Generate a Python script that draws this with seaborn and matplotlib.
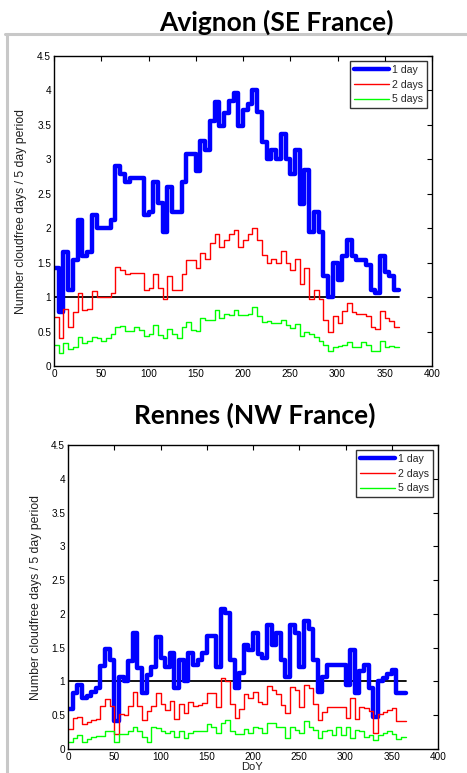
import numpy as np
import pandas as pd
import matplotlib
matplotlib.use("Agg")
import matplotlib.pyplot as plt
from matplotlib.lines import Line2D
from matplotlib.ticker import FormatStrFormatter
import seaborn as sns

# Start day of each 5-day period (73 periods)
period_start = list(range(0, 365, 5))
year_end = 365

series_names = ["1 day", "2 days", "5 days"]

# Avignon (SE France)
avignon_1day = [1.42, 0.78, 1.66, 1.11, 1.54, 2.12, 1.59, 1.66, 2.19, 2.00,
                2.00, 2.00, 2.12, 2.91, 2.78, 2.67, 2.73, 2.73, 2.73, 2.19,
                2.24, 2.67, 2.36, 1.95, 2.60, 2.24, 2.24, 2.67, 3.08, 3.08,
                2.83, 3.26, 3.14, 3.55, 3.83, 3.48, 3.67, 3.84, 3.96, 3.49,
                3.72, 3.80, 4.01, 3.68, 3.25, 3.00, 3.14, 3.00, 3.37, 3.00,
                2.78, 3.14, 2.35, 2.85, 1.94, 2.24, 1.95, 1.31, 1.00, 1.49,
                1.25, 1.60, 1.83, 1.59, 1.54, 1.54, 1.47, 1.11, 1.06, 1.60,
                1.37, 1.31, 1.11]
avignon_2days = [0.71, 0.40, 0.83, 0.57, 0.78, 1.06, 0.82, 0.83, 1.09, 1.00,
                 1.00, 1.00, 1.06, 1.44, 1.40, 1.33, 1.35, 1.35, 1.35, 1.10,
                 1.13, 1.33, 1.13, 0.97, 1.31, 1.11, 1.11, 1.33, 1.54, 1.54,
                 1.42, 1.64, 1.55, 1.78, 1.92, 1.73, 1.83, 1.92, 1.98, 1.73,
                 1.83, 1.92, 2.00, 1.83, 1.61, 1.50, 1.55, 1.50, 1.67, 1.50,
                 1.39, 1.55, 1.19, 1.42, 0.97, 1.11, 0.97, 0.67, 0.50, 0.72,
                 0.62, 0.80, 0.91, 0.79, 0.76, 0.76, 0.72, 0.57, 0.54, 0.80,
                 0.69, 0.65, 0.57]
avignon_5days = [0.31, 0.19, 0.33, 0.24, 0.27, 0.42, 0.33, 0.36, 0.42, 0.41,
                 0.36, 0.41, 0.46, 0.57, 0.58, 0.51, 0.51, 0.57, 0.52, 0.43,
                 0.47, 0.60, 0.45, 0.40, 0.53, 0.46, 0.40, 0.57, 0.64, 0.52,
                 0.51, 0.70, 0.67, 0.67, 0.82, 0.70, 0.76, 0.74, 0.81, 0.74,
                 0.74, 0.76, 0.85, 0.72, 0.64, 0.66, 0.63, 0.62, 0.67, 0.59,
                 0.55, 0.61, 0.43, 0.50, 0.47, 0.42, 0.36, 0.30, 0.22, 0.27,
                 0.29, 0.30, 0.35, 0.27, 0.27, 0.35, 0.30, 0.22, 0.22, 0.37,
                 0.27, 0.29, 0.28]

# Rennes (NW France)
rennes_1day = [0.59, 0.83, 0.95, 0.75, 0.79, 0.84, 0.90, 1.23, 1.48, 1.32,
               0.41, 1.07, 1.00, 1.31, 1.72, 1.20, 0.83, 1.10, 1.22, 1.66,
               1.35, 1.22, 1.42, 0.90, 1.32, 1.00, 1.42, 1.25, 1.32, 1.42,
               1.67, 1.67, 1.22, 2.07, 2.02, 1.32, 0.90, 1.12, 1.54, 1.47,
               1.72, 1.41, 1.35, 1.84, 1.54, 1.72, 1.32, 1.06, 1.84, 1.72,
               1.22, 1.89, 1.78, 1.32, 0.84, 1.07, 1.25, 1.25, 1.25, 1.25,
               0.94, 1.47, 0.83, 1.15, 1.24, 0.91, 0.47, 1.00, 1.05, 1.11,
               1.17, 0.83, 0.83]
rennes_2days = [0.29, 0.46, 0.48, 0.37, 0.40, 0.43, 0.45, 0.63, 0.74, 0.63,
                0.22, 0.52, 0.50, 0.63, 0.85, 0.63, 0.43, 0.56, 0.63, 0.83,
                0.67, 0.58, 0.71, 0.44, 0.66, 0.54, 0.70, 0.63, 0.65, 0.68,
                0.83, 0.83, 0.62, 1.05, 1.00, 0.66, 0.46, 0.59, 0.82, 0.75,
                0.85, 0.70, 0.67, 0.93, 0.87, 0.82, 0.65, 0.53, 0.92, 0.87,
                0.62, 0.94, 0.90, 0.66, 0.43, 0.55, 0.62, 0.62, 0.62, 0.62,
                0.46, 0.76, 0.44, 0.62, 0.61, 0.56, 0.24, 0.52, 0.55, 0.57,
                0.60, 0.42, 0.42]
rennes_5days = [0.11, 0.16, 0.21, 0.11, 0.15, 0.18, 0.19, 0.19, 0.27, 0.26,
                0.10, 0.22, 0.22, 0.27, 0.33, 0.26, 0.18, 0.11, 0.33, 0.31,
                0.26, 0.23, 0.27, 0.18, 0.27, 0.16, 0.24, 0.27, 0.27, 0.27,
                0.37, 0.33, 0.23, 0.38, 0.43, 0.26, 0.22, 0.22, 0.29, 0.23,
                0.33, 0.31, 0.24, 0.38, 0.38, 0.33, 0.33, 0.16, 0.33, 0.28,
                0.24, 0.42, 0.33, 0.28, 0.16, 0.26, 0.28, 0.21, 0.33, 0.21,
                0.33, 0.16, 0.28, 0.26, 0.18, 0.21, 0.13, 0.21, 0.23, 0.27,
                0.22, 0.15, 0.18]

x_ticks = [0, 50, 100, 150, 200, 250, 300, 350, 400]
y_ticks = [0, 0.5, 1, 1.5, 2, 2.5, 3, 3.5, 4, 4.5]
ylabel_text = "Number cloudfree days / 5 day period"

palette = {"1 day": "#0000ff", "2 days": "#ff0000", "5 days": "#00ff00"}
widths = {"1 day": 3.2, "2 days": 1.0, "5 days": 1.0}


def long_table(values_by_series):
    rows = []
    for name, vals in zip(series_names, values_by_series):
        xs = period_start + [year_end]
        ys = list(vals) + [vals[-1]]
        rows.append(pd.DataFrame({"DoY": xs, "value": ys, "series": name}))
    return pd.concat(rows, ignore_index=True)


sns.set_theme(style="white")
plt.rcParams["font.family"] = ["Liberation Sans", "DejaVu Sans"]

fig = plt.figure(figsize=(4.67, 7.73), dpi=100)
fig.patch.set_facecolor("white")

ax_top = fig.add_axes([54 / 467, 1 - 366 / 773, 378 / 467, 310 / 773])
ax_bot = fig.add_axes([68 / 467, 1 - 749 / 773, 370 / 467, 304 / 773])

panels = [
    (ax_top, [avignon_1day, avignon_2days, avignon_5days]),
    (ax_bot, [rennes_1day, rennes_2days, rennes_5days]),
]

for ax, vals in panels:
    df = long_table(vals)
    for name in series_names:
        sub = df[df["series"] == name]
        sns.lineplot(data=sub, x="DoY", y="value", color=palette[name],
                     linewidth=widths[name], drawstyle="steps-post",
                     ax=ax, legend=False, label=None)
    ax.plot([period_start[0], year_end], [1, 1], color="black", lw=1.3, zorder=1)

    ax.set_xlim(0, 400)
    ax.set_ylim(0, 4.5)
    ax.set_xticks(x_ticks)
    ax.set_yticks(y_ticks)
    ax.yaxis.set_major_formatter(FormatStrFormatter("%g"))
    ax.tick_params(direction="in", length=3.5, width=0.8, labelsize=7.2,
                   top=True, right=True, colors="black", pad=2)
    for sp in ax.spines.values():
        sp.set_color("black")
        sp.set_linewidth(1.0)
    ax.set_xlabel("")
    ax.set_ylabel(ylabel_text, fontsize=8.8, color="#202020")
    ax.yaxis.set_label_coords(-0.071, 0.5)

    handles = [Line2D([], [], color=palette[n], lw=widths[n]) for n in series_names]
    leg = ax.legend(handles, series_names, loc="upper right", fontsize=7.6,
                    frameon=True, fancybox=False, handlelength=3.3,
                    handletextpad=0.3, labelspacing=0.45, borderpad=0.35,
                    borderaxespad=0.5)
    leg.get_frame().set_edgecolor("black")
    leg.get_frame().set_linewidth(1.0)

ax_bot.set_xlabel("DoY", fontsize=8, color="#202020")
ax_bot.xaxis.set_label_coords(0.497, -0.043)
ax_bot.xaxis.label.set_verticalalignment("top")

# Titles
fig.text(276 / 467, 1 - 22 / 773, "Avignon (SE France)", ha="center", va="center",
         fontsize=19, fontweight="bold", family=["Lato", "DejaVu Sans"], color="black")
fig.text(255 / 467, 1 - 415 / 773, "Rennes (NW France)", ha="center", va="center",
         fontsize=19, fontweight="bold", family=["Lato", "DejaVu Sans"], color="black")

# Grey frame along top and left
fig.add_artist(Line2D([5 / 467, 1.0], [1 - 34 / 773, 1 - 34 / 773],
                      transform=fig.transFigure, color="#c8c8c8", lw=2.2))
fig.add_artist(Line2D([6.5 / 467, 6.5 / 467], [1 - 34 / 773, 0.0],
                      transform=fig.transFigure, color="#c8c8c8", lw=2.2))

fig.savefig("out.png", dpi=100, facecolor="white")
